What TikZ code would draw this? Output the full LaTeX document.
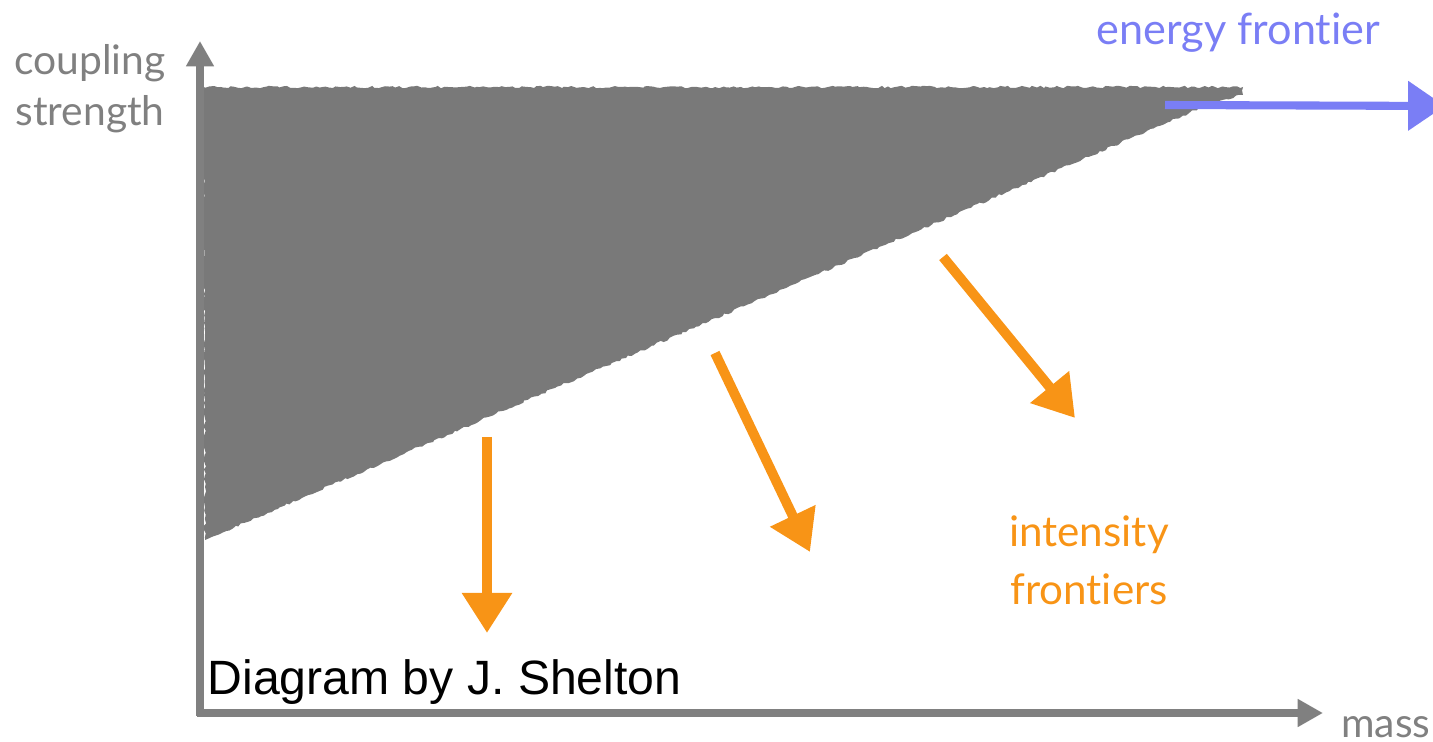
\documentclass[tikz,border=0pt]{standalone}
\usepackage{fontspec}
\setmainfont{Lato}[Ligatures={NoCommon,NoContextual}]
\newfontfamily\arialfont{Liberation Sans}
\usetikzlibrary{arrows.meta,decorations.pathmorphing}
\definecolor{axisgray}{RGB}{128,128,128}
\definecolor{regiongray}{RGB}{121,121,121}
\definecolor{energyblue}{RGB}{122,126,245}
\definecolor{intensityorange}{RGB}{248,148,22}

\begin{document}
\begin{tikzpicture}[x=0.1mm,y=-0.1mm,
  axis/.style={draw=axisgray,line width=2pt,-{Triangle[width=7.5pt,length=7.2pt]}},
  frontier/.style={line width=2.8pt,-{Triangle[width=13.6pt,length=11.4pt]}},
  lbl/.style={inner sep=0pt,font=\fontsize{11.6}{14.5}\selectfont}]
\useasboundingbox (0,0) rectangle (1433,742);
\clip (0,0) rectangle (1433,742);
% excluded region
\fill[regiongray,decorate,decoration={random steps,segment length=1pt,amplitude=0.35pt}]
  (203,87) -- (1243,87) -- (1243,95) -- (1212,103) -- (205,540) -- cycle;
% axes
\coordinate (origin) at (200,713);
\coordinate (ytip) at (200,41);
\coordinate (xtip) at (1323,713);
\draw[axis] (200,716) -- (ytip);
\draw[axis] (197,713) -- (xtip);
\node[lbl,text=axisgray,align=center,anchor=north] (ylabel) at (90,44) {coupling\\strength};
\node[lbl,text=axisgray,anchor=base east] (xlabel) at (1431,738) {mass};
% frontiers
\coordinate (e0) at (1165,105);
\coordinate (e1) at (1445,106);
\draw[frontier,energyblue,line width=2.3pt,-{Triangle[width=13.6pt,length=10.5pt]}] (e0) -- (e1);
\node[lbl,text=energyblue,font=\fontsize{12.3}{15}\selectfont,anchor=base west] (energy) at (1096,45) {energy frontier};
\coordinate (a0) at (487,437);
\coordinate (a1) at (487,633);
\coordinate (b0) at (715,353);
\coordinate (b1) at (810,552);
\coordinate (c0) at (943,257);
\coordinate (c1) at (1075,418);
\foreach \s/\t in {a0/a1,b0/b1,c0/c1}
  \draw[frontier,intensityorange] (\s) -- (\t);
\node[lbl,text=intensityorange,font=\fontsize{12}{16.5}\selectfont,align=center,anchor=north] (intensity) at (1089,515) {intensity\\frontiers};
\node[inner sep=0pt,anchor=base west,font=\arialfont\fontsize{13.7}{16}\selectfont] (credit) at (207,695) {Diagram by J. Shelton};
\end{tikzpicture}
\end{document}
